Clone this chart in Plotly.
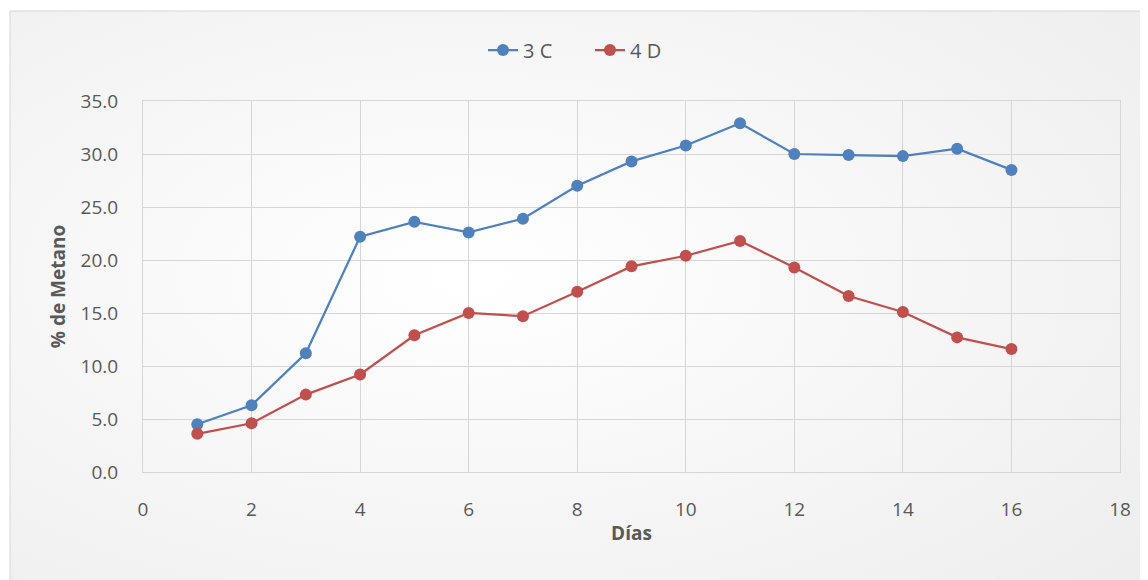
import plotly.graph_objects as go

dias = list(range(1, 17))
serie_3c = [4.5, 6.3, 11.2, 22.2, 23.6, 22.6, 23.9, 27.0, 29.3, 30.8, 32.9, 30.0, 29.9, 29.8, 30.5, 28.5]
serie_4d = [3.6, 4.6, 7.3, 9.2, 12.9, 15.0, 14.7, 17.0, 19.4, 20.4, 21.8, 19.3, 16.6, 15.1, 12.7, 11.6]
x_ticks = list(range(0, 19, 2))
y_ticks = [0, 5, 10, 15, 20, 25, 30, 35]

OFF = 8  # page body margin
W, H = 1148 - OFF, 580 - OFF
# plot area in page pixels: x 143..1120, y 101..472
L, R, T, B = 143 - OFF, 1148 - 1120, 101 - OFF, 580 - 472
pw, ph = W - L - R, H - T - B

def px_x(p):
    return (p - OFF - L) / pw

def px_y(p):
    return (H - B - (p - OFF)) / ph

text_col = "#595959"
grid_col = "#d6d6d6"
font_fam = "Open Sans, Lato, sans-serif"

fig = go.Figure()
fig.add_trace(go.Scatter(
    x=dias, y=serie_3c, name="3 C", mode="lines+markers",
    line=dict(color="#4F81BD", width=2.25),
    marker=dict(color="#4F81BD", size=12),
))
fig.add_trace(go.Scatter(
    x=dias, y=serie_4d, name="4 D", mode="lines+markers",
    line=dict(color="#C0504D", width=2.25),
    marker=dict(color="#C0504D", size=12),
))

svg = ("data:image/svg+xml;utf8,<svg xmlns='http://www.w3.org/2000/svg' width='1148' height='580'>"
       "<defs><radialGradient id='g' cx='40%' cy='45%' r='75%'>"
       "<stop offset='0%' stop-color='%23ffffff'/><stop offset='100%' stop-color='%23eeeeee'/>"
       "</radialGradient></defs><rect width='1148' height='580' fill='url(%23g)'/></svg>")

fig.update_layout(
    width=W, height=H,
    margin=dict(l=L, r=R, t=T, b=B),
    paper_bgcolor="#ffffff",
    plot_bgcolor="rgba(0,0,0,0)",
    font=dict(family=font_fam, size=19, color=text_col),
    showlegend=True,
    legend=dict(
        orientation="h", x=px_x(590), xanchor="center", y=px_y(50), yanchor="middle",
        bgcolor="rgba(0,0,0,0)", font=dict(size=20, color=text_col),
        entrywidth=62, entrywidthmode="pixels", traceorder="normal",
    ),
    xaxis=dict(
        range=[0, 18], tickvals=x_ticks, ticktext=[str(v) for v in x_ticks],
        showgrid=True, gridcolor=grid_col, gridwidth=1,
        showline=True, linecolor=grid_col, linewidth=1, mirror=True,
        zeroline=False, ticks="", ticklabelstandoff=20,
        tickfont=dict(size=19, color=text_col),
        title=dict(text="<b>Días</b>", font=dict(size=19, color=text_col), standoff=5),
        fixedrange=True,
    ),
    yaxis=dict(
        range=[0, 35], tickvals=y_ticks, ticktext=[f"{v:.1f}" for v in y_ticks],
        showgrid=True, gridcolor=grid_col, gridwidth=1,
        showline=True, linecolor=grid_col, linewidth=1, mirror=True,
        zeroline=False, ticks="", ticklabelstandoff=20,
        tickfont=dict(size=19, color=text_col),
        title=dict(text="<b>% de Metano</b>", font=dict(size=19, color=text_col), standoff=9),
        fixedrange=True,
    ),
    images=[dict(source=svg, xref="paper", yref="paper",
                 x=px_x(10), y=px_y(11), sizex=(1160 - 10) / pw, sizey=(600 - 11) / ph,
                 xanchor="left", yanchor="top", sizing="stretch", layer="below")],
    shapes=[dict(type="rect", xref="paper", yref="paper",
                 x0=px_x(10), x1=px_x(1170), y0=px_y(620), y1=px_y(11),
                 line=dict(color=grid_col, width=1), fillcolor="rgba(0,0,0,0)", layer="below")],
)

fig.write_html("out.html")
